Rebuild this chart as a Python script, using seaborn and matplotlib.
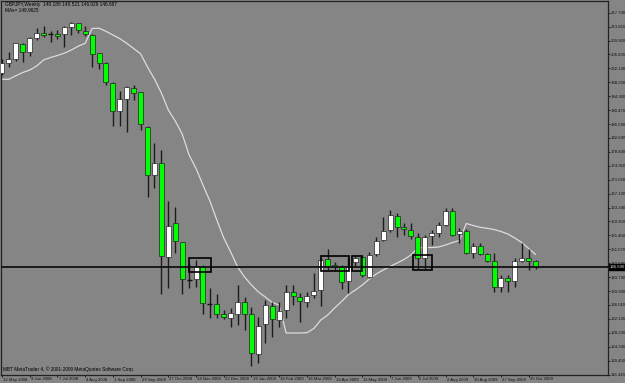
import numpy as np
import pandas as pd
import matplotlib
matplotlib.use("Agg")
import matplotlib.pyplot as plt
import matplotlib.transforms as mtrans
from matplotlib.patches import Rectangle
import seaborn as sns

# ---------------- data (GBPJPY weekly) ----------------
opens = [200.93, 203.73, 204.68, 208.87, 206.72, 210.71, 212.11, 211.78, 211.75, 211.75,
         213.62, 214.74, 212.67, 211.55, 206.35, 203.73, 198.14, 190.23, 193.50, 196.74,
         195.45, 185.84, 172.34, 175.61, 149.50, 159.00, 153.53, 143.02, 143.19, 146.54,
         136.23, 136.20, 133.40, 132.29, 133.49, 136.92, 133.49, 122.31, 130.61, 135.72,
         131.81, 134.60, 139.55, 138.15, 136.76, 138.71, 140.19, 148.78, 147.10, 146.54,
         142.79, 148.10, 149.50, 143.74, 150.26, 154.17, 156.96, 160.96, 157.72, 156.96,
         155.09, 149.05, 155.37, 156.04, 158.36, 162.36, 155.76, 156.77, 150.45, 152.49,
         150.17, 148.38, 140.95, 143.46, 142.79, 148.38, 149.22, 148.19]
highs = [204.68, 206.63, 209.32, 209.15, 210.82, 213.34, 214.07, 212.59, 212.87, 213.98,
         215.18, 214.91, 213.98, 211.75, 206.52, 204.00, 198.33, 195.90, 197.21, 197.49,
         195.62, 186.03, 181.20, 179.32, 165.15, 163.48, 153.69, 147.66, 148.58, 147.18,
         140.67, 139.08, 134.60, 135.08, 141.59, 138.32, 135.53, 132.73, 137.40, 136.92,
         136.92, 141.59, 141.59, 139.27, 139.72, 145.03, 149.05, 151.57, 148.10, 147.18,
         149.50, 149.89, 149.98, 150.90, 155.09, 160.51, 162.55, 161.63, 158.84, 158.84,
         156.04, 155.57, 156.96, 159.28, 163.03, 163.03, 157.44, 157.16, 153.25, 153.25,
         150.62, 150.45, 144.39, 144.39, 149.05, 153.25, 151.57, 148.52]
lows = [200.29, 202.61, 204.28, 204.00, 205.68, 210.07, 210.82, 209.43, 210.27, 208.20,
        211.55, 212.11, 211.19, 202.61, 201.88, 197.41, 186.03, 186.03, 184.44, 193.30,
        184.91, 166.27, 168.62, 139.08, 140.67, 150.45, 139.08, 140.67, 141.12, 133.49,
        132.29, 132.29, 132.01, 129.94, 130.41, 129.01, 118.95, 119.71, 125.30, 127.14,
        129.77, 132.29, 136.00, 131.33, 135.36, 137.88, 135.72, 145.78, 145.78, 140.47,
        139.27, 146.54, 143.91, 143.46, 149.70, 153.97, 156.49, 155.09, 155.57, 154.37,
        146.06, 146.06, 152.77, 155.09, 158.08, 155.37, 153.25, 150.26, 149.05, 149.98,
        148.10, 139.72, 139.72, 139.72, 141.12, 148.10, 145.78, 146.03]
closes = [203.56, 204.68, 209.15, 206.72, 210.55, 212.11, 211.55, 211.72, 211.10, 213.79,
          214.91, 212.78, 211.66, 206.16, 203.73, 198.33, 190.23, 193.66, 196.85, 195.34,
          186.51, 172.34, 175.78, 149.70, 158.08, 153.97, 143.19, 142.99, 146.90, 136.48,
          136.20, 133.49, 132.73, 133.68, 136.92, 133.40, 122.50, 130.22, 136.00, 132.01,
          134.41, 139.55, 138.52, 137.20, 138.60, 139.92, 148.58, 146.90, 146.62, 142.51,
          146.54, 149.05, 144.39, 149.98, 153.97, 156.77, 161.16, 157.89, 157.24, 155.29,
          149.22, 155.09, 156.04, 158.28, 162.36, 155.57, 156.77, 150.45, 152.49, 150.17,
          148.38, 140.95, 143.46, 142.71, 148.38, 149.22, 148.30, 146.69]
trail = [199.09, 199.09, 200.09, 200.99, 201.68, 202.80, 204.48, 205.18, 205.74, 206.38,
         207.27, 208.34, 209.15, 213.28, 213.37, 212.50, 211.47, 210.46, 209.15, 207.69,
         206.21, 202.52, 199.17, 195.26, 190.50, 187.43, 183.80, 177.93, 174.15, 169.54,
         165.07, 159.76, 154.73, 150.82, 146.62, 143.83, 141.59, 139.64, 138.24, 136.70,
         136.00, 128.18, 128.18, 128.18, 128.26, 129.43, 131.81, 133.21, 135.16, 136.98,
         138.94, 140.19, 141.59, 143.27, 144.67, 145.78, 146.76, 147.74, 148.72, 149.98,
         151.93, 152.07, 152.07, 152.21, 152.77, 153.47, 154.03, 158.78, 158.22, 157.72,
         157.44, 157.10, 156.55, 155.85, 154.73, 153.47, 151.79, 150.12]

date_labels = ["12 May 2008", "9 Jun 2008", "7 Jul 2008", "4 Aug 2008", "1 Sep 2008",
               "29 Sep 2008", "27 Oct 2008", "24 Nov 2008", "22 Dec 2008", "19 Jan 2009",
               "16 Feb 2009", "16 Mar 2009", "13 Apr 2009", "11 May 2009", "7 Jun 2009",
               "5 Jul 2009", "2 Aug 2009", "30 Aug 2009", "27 Sep 2009", "25 Oct 2009"]
date_label_bars = list(range(0, 80, 4))

price_ticks = [217.70, 213.81, 209.92, 206.03, 202.14, 198.25, 194.36, 190.47, 186.58,
               182.69, 178.80, 174.91, 171.02, 167.13, 163.24, 159.35, 155.46, 151.57,
               147.68, 143.79, 139.90, 136.01, 132.12, 128.23, 124.34, 120.45, 116.44]

box_x0 = [27.0, 46.1, 50.5, 59.3]
box_x1 = [30.1, 50.1, 52.0, 62.1]
box_lo = [145.31, 145.59, 145.59, 145.78]
box_hi = [149.05, 149.70, 149.70, 149.98]
level_price = 146.69

header1 = "GBPJPY,Weekly  148.188 148.521 146.029 146.687"
header2 = "MAs= 149.9625"
copyright_txt = "MBT MetaTrader 4, \u00a9 2001-2009 MetaQuotes Software Corp."

# ---------------- style ----------------
sns.set_style("white")
plt.rcParams['font.family'] = ['Liberation Sans', 'DejaVu Sans']
BG = "#858585"
FS = 3.1

df = pd.DataFrame({"bar": np.arange(len(opens)), "open": opens, "high": highs,
                   "low": lows, "close": closes, "trail": trail})

W, H = 625, 383
fig = plt.figure(figsize=(W / 100, H / 100), dpi=100, facecolor=BG)
ax = fig.add_axes([1 / W, 8 / H, 607 / W, 374 / H])
ax.set_facecolor(BG)

# indicator line
sns.lineplot(data=df, x="bar", y="trail", ax=ax, color="#dcdcdc", lw=0.9,
             legend=False, zorder=1.5)

# wicks
ax.vlines(df["bar"], df["low"], df["high"], color="#1c1c1c", lw=1.0, zorder=2)

# bodies
o = df["open"].to_numpy(); c = df["close"].to_numpy()
bull = c >= o
doji = np.abs(c - o) < 0.08
cols = np.where(bull, "#ffffff", "#00ff00")
body_df = df[~doji]
ax.bar(body_df["bar"], np.abs(body_df["close"] - body_df["open"]),
       bottom=np.minimum(body_df["open"], body_df["close"]), width=0.72,
       color=cols[~doji], edgecolor="#222222", linewidth=0.5, zorder=3)
dj = df[doji]
ax.hlines(dj["close"], dj["bar"] - 0.36, dj["bar"] + 0.36, color="#111111", lw=1.0, zorder=3)

# horizontal level line
ax.axhline(level_price, color="#111111", lw=1.3, zorder=4)

# boxes
for x0, x1, lo, hi in zip(box_x0, box_x1, box_lo, box_hi):
    ax.add_patch(Rectangle((x0, lo), x1 - x0, hi - lo, fill=False, ec="#000000",
                           lw=1.2, zorder=5))

# axes limits: bar 0 at pixel 2, ~6.93 px per bar
ax.set_xlim(-0.144, -0.144 + 607 / 6.93)
ax.set_ylim(116.44, 220.97)

# right price axis
ax.yaxis.tick_right()
ax.set_yticks(price_ticks)
ax.set_yticklabels([f"{t:.3f}" for t in price_ticks])
ax.tick_params(axis="y", direction="out", length=1.6, width=0.6, colors="#111111",
               labelsize=FS, pad=0.6, right=True, left=False)

# bottom date axis
ax.set_xticks(date_label_bars)
ax.set_xticklabels(date_labels)
ax.tick_params(axis="x", direction="out", length=1.5, width=0.6, colors="#111111",
               labelsize=FS, pad=0.3, bottom=True)
off = mtrans.ScaledTranslation(0.8 / 72, 0, fig.dpi_scale_trans)
for lab in ax.get_xticklabels():
    lab.set_horizontalalignment("left")
    lab.set_transform(lab.get_transform() + off)
ax.set_xlabel(""); ax.set_ylabel("")

for side in ["left", "top", "right", "bottom"]:
    ax.spines[side].set_visible(True)
    ax.spines[side].set_color("#222222")
    ax.spines[side].set_linewidth(0.9)

# current price label
ax.annotate(f"{level_price:.3f}", xy=(1.0, level_price), xycoords=("axes fraction", "data"),
            xytext=(1.5, 0), textcoords="offset points", ha="left", va="center",
            fontsize=FS, color="#e0e0e0", zorder=6, annotation_clip=False,
            bbox=dict(boxstyle="square,pad=0.2", fc="#000000", ec="#000000"))

# header texts
fig.text(5 / W, 1 - 4.5 / H, header1, fontsize=3.4, color="#000000", va="center", ha="left")
fig.text(5 / W, 1 - 10 / H, header2, fontsize=3.4, color="#000000", va="center", ha="left")
fig.text(3 / W, 1 - 369 / H, copyright_txt, fontsize=3.4, color="#000000", va="center", ha="left")

fig.savefig("out.png", dpi=100, facecolor=BG)
